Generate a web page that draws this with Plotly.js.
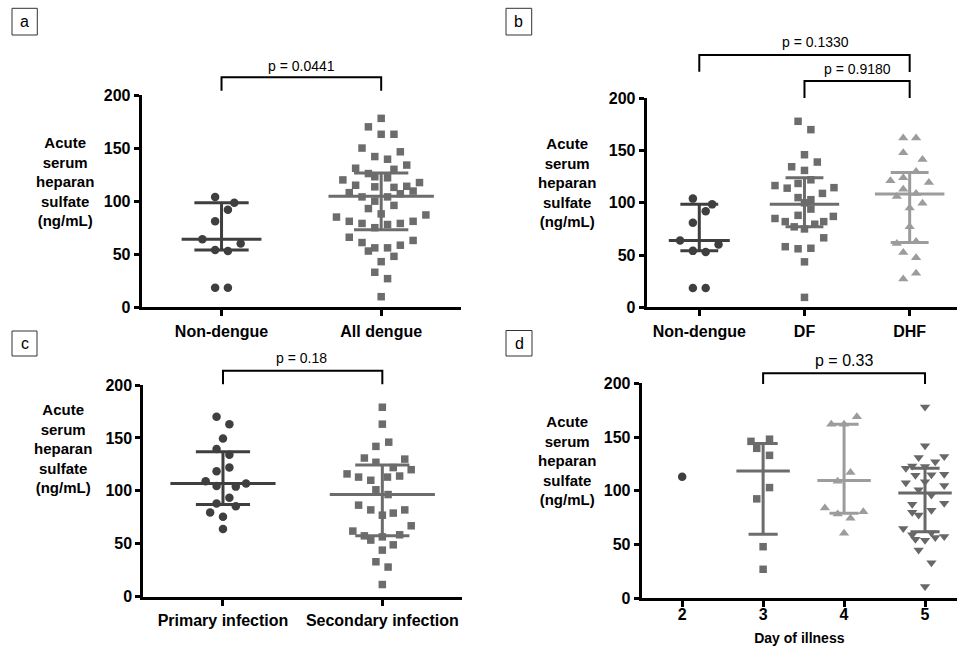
<!DOCTYPE html>
<html><head><meta charset="utf-8">
<script src="https://cdn.plot.ly/plotly-3.0.1.min.js"></script>
<style>html,body{margin:0;padding:0;background:#fff}#chart{width:957px;height:646px}</style>
</head><body><div id="chart"></div>
<script>
// ---------- DATA (ng/mL) ----------
// Panel a / b : Non-dengue
const nonDengueHS  = [104, 98.5, 92, 81, 64, 60, 54, 53, 18.5, 18.5];
const nonDengueJit = [-1, 2, 1, -1, -3, 3, -1, 1, -1, 1];
const nonDengueStats = [64, 54, 98.5];           // median, Q1, Q3
// Panel a : All dengue
const allDengueHS  = [178,170,163,163,150,146.5,142,139.5,134,131,130,126,123,122,120,117.5,115,113.5,113,114,109.5,108,107,104,104,100,93,96,88,85,87,81,79,75,78,79,81,66,63,61,53,56,56,58.5,48,43,33,27,10];
const allDengueJit = [0,-2,0,2,-3,3,-1,1,4,-4,2,-2,-1,1,-6,6,-4,-1,2,4,5,-5,3,-3,1,-1,-2,2,0,-7,7,-5,-3,-1,1,3,5,-5,5,-3,-2,-1,1,3,2,0,-1,1,0];
const allDengueStats = [104.5, 73, 126.5];
// Panel b : DF / DHF
const dfHS  = [178,170,146,139,134.5,131,122,118.5,116.5,114,114.5,109,105,103,100,94,88,85,87,82,82,77,79.5,75,66.5,58,56,56.5,43.5,9.5];
const dfJit = [-1,1,0,2,-2,0,1,-1,-4.6,-2.7,4.6,2.8,-1,1,0,1,-1,-4.6,4.5,-3,3,-1.6,1.6,0,3,-3,-1,1,0,0];
const dfStats = [98.5, 77, 124];
const dhfHS  = [162,162,148,141.5,130,121,124,119.5,113,109,106,99.5,95,77,61,63,52.5,47.5,32.5,27];
const dhfJit = [-1,1,-1,2,1,-3,-1,3,-1,1,-2,2,0,0,-2,1,-1,1,1,-1];
const dhfStats = [108.5, 62, 129];
// Panel c : Primary / Secondary infection
const primaryHS  = [170,163,149.5,139.5,134,122,118.5,109,104.5,104,107,93.5,88,85.5,79.5,75.5,64];
const primaryJit = [-1,1,0,-1,1,1,-1,-2.7,-1,2,3.6,1,-1,2,-2,0,0];
const primaryStats = [107, 87, 137];
const secondaryHS  = [179,163,142,146,131,130,127,122,120,116,113,110,113,114,101,96.5,86.5,82,77,79,82,67,62,57.5,53.5,56.5,58.5,49,44,33,28,11.5];
const secondaryJit = [0,0,-1,1,-2.8,3.5,-1,1.7,4.5,-5.5,-3.7,-1.8,0.8,2.7,-1,0.9,-3.7,-1.8,0,1.7,3.5,4.5,-4.6,-2.8,-1.8,0,2.7,1.7,0,-1,0.9,0];
const secondaryStats = [96.5, 57.5, 124.5];
// Panel d : Day of illness
const dayCats = [2, 3, 4, 5];
const day2HS = [113];
const day2Jit = [0];
const day3HS = [146,148,139.5,133,103,92.5,48,27];
const day3Jit = [-1.9,1,-1,1,1,-1,0,0];
const day3Stats = [118.5, 59.5, 144];
const day4HS = [162,162,169,117,109,84,78.5,80.5,74.5,60.5];
const day4Jit = [-2,0,2,1,-1,-3,-1,3,1,0];
const day4Stats = [109.5, 79, 162];
const day5HS = [178,142,131,127,132,121,123,122.5,115.5,114.5,115,107.5,108.5,105,101,96,87.5,88.5,82,80,77.5,65,59,61,55,54,56.5,57.5,45,33,11];
const day5Jit = [0,0,-1,1.6,3,-3,-2,0,3,-1.5,1,-3,0,3,-1,1,-2,3,1,-2,-1,-3.4,-2,1,-1.5,0,1.6,3,-1,1,0];
const day5Stats = [98, 62, 121];

const catsA = ['Non-dengue', 'All dengue'];
const catsB = ['Non-dengue', 'DF', 'DHF'];
const catsC = ['Primary infection', 'Secondary infection'];
const yTicks = [0, 50, 100, 150, 200];
const pA = ['p = 0.0441'];
const pB = ['p = 0.1330', 'p = 0.9180'];
const pC = ['p = 0.18'];
const pD = ['p = 0.33'];

// ---------- STYLE ----------
const W = 957, H = 646;
const X = v => v / W, Y = v => 1 - v / H;
const FONT = 'Arial, "Liberation Sans", sans-serif';
const C_DARK = '#3f3f3f', C_MID = '#6c6c6c', C_LIGHT = '#9c9c9c', C_DOWN = '#686868';

const traces = [];
function group(xa, ya, cat, vals, jit, step, symbol, size, color, stats, mh, ih) {
  traces.push({
    type: 'scatter', mode: 'markers', xaxis: xa, yaxis: ya, cliponaxis: false,
    x: vals.map((v, i) => cat + jit[i] * step), y: vals,
    marker: {symbol: symbol, size: size, color: color, line: {width: 0}},
    hoverinfo: 'y', showlegend: false
  });
  if (stats) {
    const [m, q1, q3] = stats;
    traces.push({
      type: 'scatter', mode: 'lines', xaxis: xa, yaxis: ya,
      x: [cat - mh, cat + mh, null, cat - ih, cat + ih, null, cat - ih, cat + ih, null, cat, cat],
      y: [m, m, null, q3, q3, null, q1, q1, null, q1, q3],
      line: {color: color, width: 3}, hoverinfo: 'skip', showlegend: false
    });
  }
}
// slot width 6.4 px converted to category units per panel
group('x', 'y', 0, nonDengueHS, nonDengueJit, 6.4/160, 'circle', 8.5, C_DARK, nonDengueStats, 0.25, 0.17);
group('x', 'y', 1, allDengueHS, allDengueJit, 6.4/160, 'square', 7.5, C_MID, allDengueStats, 0.33, 0.17);
group('x2', 'y2', 0, nonDengueHS, nonDengueJit, 6.4/105, 'circle', 8.5, C_DARK, nonDengueStats, 0.29, 0.18);
group('x2', 'y2', 1, dfHS, dfJit, 6.4/105, 'square', 7.5, C_MID, dfStats, 0.33, 0.18);
group('x2', 'y2', 2, dhfHS, dhfJit, 6.4/105, 'triangle-up', 9, C_LIGHT, dhfStats, 0.33, 0.18);
group('x3', 'y3', 0, primaryHS, primaryJit, 6.4/159, 'circle', 8.5, C_DARK, primaryStats, 0.33, 0.17);
group('x3', 'y3', 1, secondaryHS, secondaryJit, 6.4/159, 'square', 7.5, C_MID, secondaryStats, 0.33, 0.17);
group('x4', 'y4', dayCats[0], day2HS, day2Jit, 6.4/81, 'circle', 8.5, C_DARK, null, 0, 0);
group('x4', 'y4', dayCats[1], day3HS, day3Jit, 6.4/81, 'square', 7.5, C_MID, day3Stats, 0.33, 0.18);
group('x4', 'y4', dayCats[2], day4HS, day4Jit, 6.4/81, 'triangle-up', 9, C_LIGHT, day4Stats, 0.33, 0.18);
group('x4', 'y4', dayCats[3], day5HS, day5Jit, 6.4/81, 'triangle-down', 9, C_DOWN, day5Stats, 0.33, 0.18);

function yax(dom, anchor) {
  return {domain: dom, anchor: anchor, range: [0, 200], tickvals: yTicks, showline: true, linewidth: 3,
    linecolor: '#000', ticks: 'outside', ticklen: 5, tickwidth: 3, tickcolor: '#000',
    tickfont: {family: FONT, size: 16, weight: 'bold', color: '#000'}, showgrid: false, zeroline: false, fixedrange: true};
}
function xax(dom, anchor, range, tv, tt, standoff) {
  return {domain: dom, anchor: anchor, range: range, tickvals: tv, ticktext: tt, showline: true, linewidth: 3,
    linecolor: '#000', ticks: 'outside', ticklen: 6, tickwidth: 3, tickcolor: '#000', ticklabelstandoff: standoff,
    tickfont: {family: FONT, size: 16, weight: 'bold', color: '#000'}, showgrid: false, zeroline: false, fixedrange: true};
}

const shapes = [], annotations = [];
function bracket(xa, x0, x1, yTop, yLeg0, yLeg1, text, tx, ty, fs) {
  shapes.push({type: 'path', xref: xa, yref: 'paper',
    path: `M ${x0},${Y(yLeg0)} L ${x0},${Y(yTop)} L ${x1},${Y(yTop)} L ${x1},${Y(yLeg1)}`,
    line: {color: '#000', width: 2}});
  annotations.push({xref: xa, yref: 'paper', x: tx, y: Y(ty), text: text, showarrow: false,
    xanchor: 'center', yanchor: 'middle', font: {family: FONT, size: fs, color: '#000'}});
}
bracket('x', 0, 1, 77.3, 90.7, 90.7, pA[0], 0.5, 66, 14);
bracket('x2', 0, 2, 55, 71.7, 72, pB[0], 1.1, 42.3, 14);
bracket('x2', 1, 2, 81, 98, 98, pB[1], 1.5, 69.3, 14);
bracket('x3', 0, 1, 370.7, 384.3, 384.3, pC[0], 0.49, 358.3, 14);
bracket('x4', 3, 5, 373.3, 384, 384, pD[0], 4, 360.7, 16);

function panelLabel(t, x0, y0, x1, y1) {
  shapes.push({type: 'rect', xref: 'paper', yref: 'paper', x0: X(x0), x1: X(x1), y0: Y(y1), y1: Y(y0),
    line: {color: '#333', width: 1}});
  annotations.push({xref: 'paper', yref: 'paper', x: X((x0 + x1) / 2), y: Y((y0 + y1) / 2), text: t,
    showarrow: false, xanchor: 'center', yanchor: 'middle', font: {family: FONT, size: 16, color: '#000'}});
}
panelLabel('a', 12, 8.3, 37.3, 35);
panelLabel('b', 506, 8.3, 531.7, 35);
panelLabel('c', 12, 331, 37, 356);
panelLabel('d', 506, 330.5, 532, 356);

const yTitle = 'Acute<br>serum<br>heparan<br>sulfate<br>(ng/mL)';
[[65, 181], [567, 182.5], [63, 448.5], [567, 460.5]].forEach(([cx, cy]) => {
  annotations.push({xref: 'paper', yref: 'paper', x: X(cx), y: Y(cy), text: yTitle, showarrow: false,
    xanchor: 'center', yanchor: 'middle', align: 'center',
    font: {family: FONT, size: 15, weight: 'bold', color: '#000'}});
});

const layout = {
  width: W, height: H, autosize: false, margin: {l: 0, r: 0, t: 0, b: 0, pad: 0},
  paper_bgcolor: '#fff', plot_bgcolor: '#fff', showlegend: false,
  xaxis: xax([X(141.7), X(461)], 'y', [-0.5, 1.5], [0, 1], catsA, 1),
  yaxis: yax([Y(307.3), Y(95)], 'x'),
  xaxis2: xax([X(646.7), 1], 'y2', [-0.5, 2.45], [0, 1, 2], catsB, 1),
  yaxis2: yax([Y(307.3), Y(98.3)], 'x2'),
  xaxis3: xax([X(143.3), X(462)], 'y3', [-0.5, 1.5], [0, 1], catsC, 1),
  yaxis3: yax([Y(596.7), Y(385)], 'x3'),
  xaxis4: Object.assign(xax([X(641.7), 1], 'y4', [1.5, 5.395], dayCats, dayCats.map(String), -7),
    {title: {text: 'Day of illness', font: {family: FONT, size: 14, weight: 'bold', color: '#000'}, standoff: 13}}),
  yaxis4: yax([Y(598.3), Y(383.3)], 'x4'),
  shapes: shapes, annotations: annotations
};
Plotly.newPlot('chart', traces, layout, {staticPlot: true, displayModeBar: false});
</script>
</body></html>
